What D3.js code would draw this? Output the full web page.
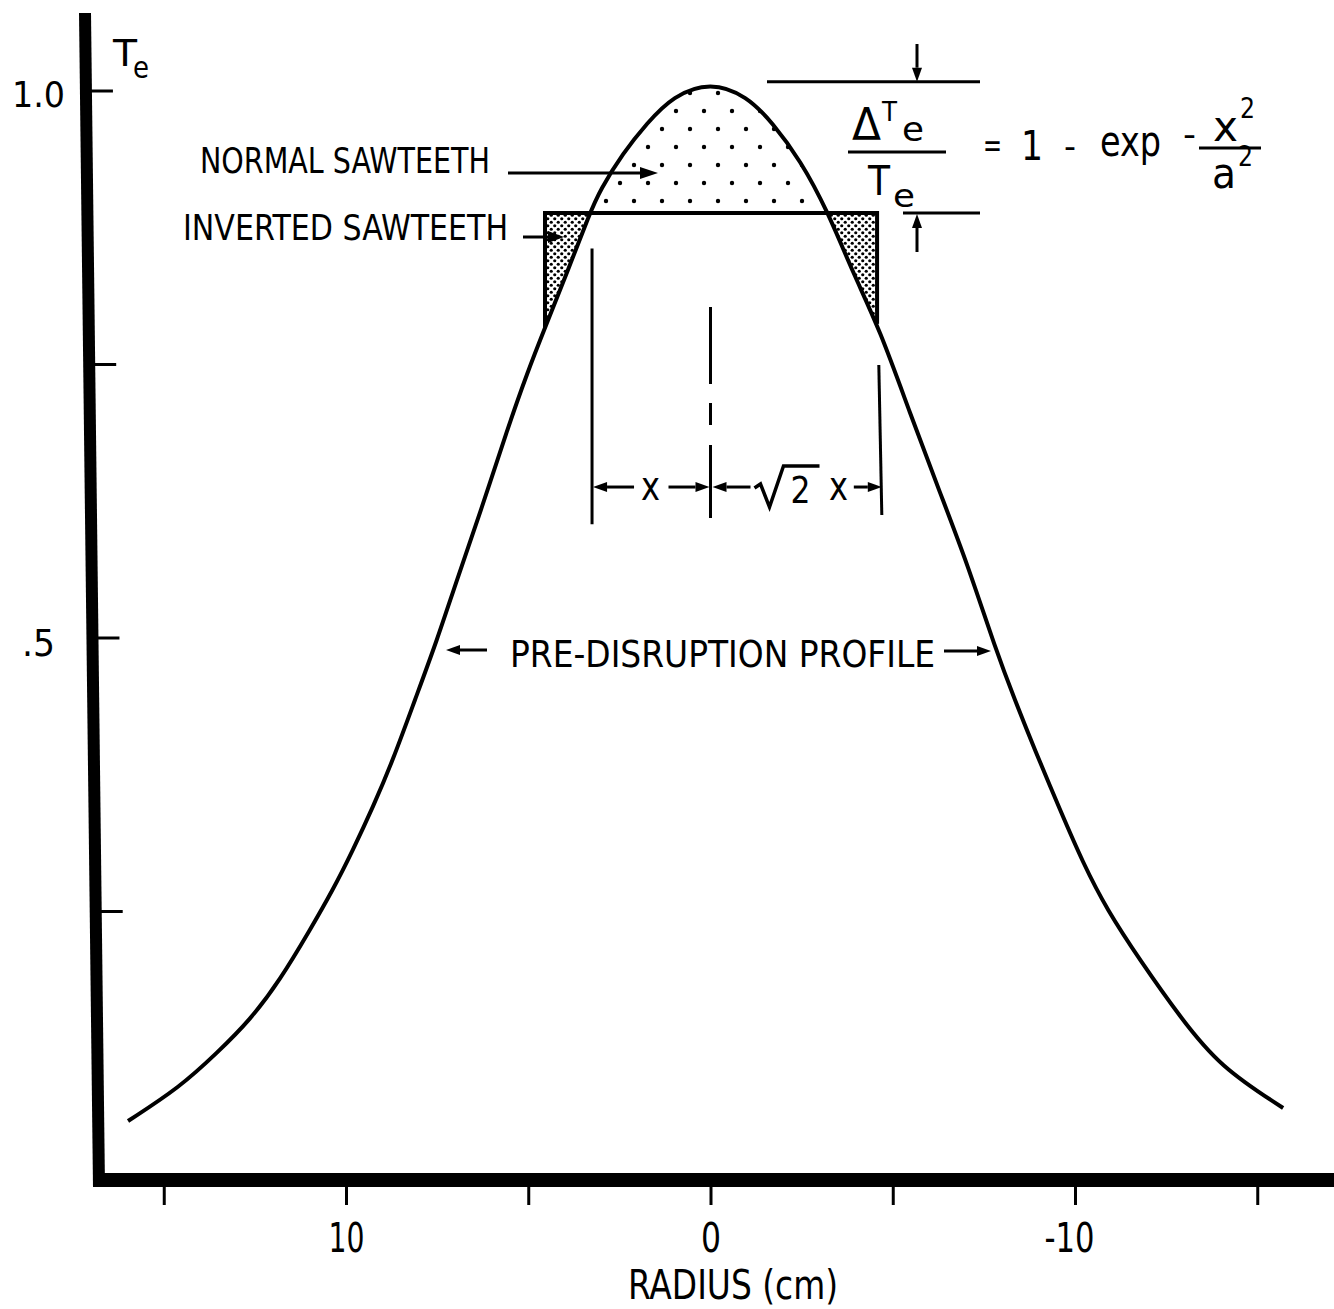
<!DOCTYPE html>
<html>
<head>
<meta charset="utf-8">
<script src="https://cdn.jsdelivr.net/npm/d3@7"></script>
<style>
  html, body { margin: 0; padding: 0; background: #fff; }
  svg { display: block; }
</style>
</head>
<body>
<svg id="chart" width="1334" height="1309"></svg>
<script>
// Pre-disruption electron temperature profile, normalised to the central value
const radiusCm = [15.98, 14.55, 13.54, 12.63, 11.81, 10.99, 10.36, 9.81, 9.26, 8.71,
  8.11, 7.50, 6.96, 6.32, 5.58, 5.03, 4.51, 3.94, 3.31, 3.03, 2.40, 1.74, 1.03, 0,
  -1.00, -1.71, -2.46, -3.20, -3.91, -4.65, -5.47, -6.30, -7.04, -7.83, -8.35, -8.90,
  -9.59, -10.22, -10.88, -11.78, -12.88, -13.98, -15.71];
const teNorm = [0.0585, 0.0896, 0.1207, 0.1508, 0.1874, 0.2331, 0.2697, 0.3062, 0.3455, 0.3885,
  0.4433, 0.4982, 0.5530, 0.6143, 0.6901, 0.7422, 0.7861, 0.8336, 0.8885, 0.9095, 0.9433, 0.9707, 0.9955, 1.0085,
  0.9955, 0.9707, 0.9369, 0.8912, 0.8336, 0.7815, 0.7057, 0.6325, 0.5686, 0.4890, 0.4433, 0.3976,
  0.3428, 0.2943, 0.2514, 0.2057, 0.1536, 0.1079, 0.0704];

// Flattened level after the crash and the edges of the mixing region (cm)
const flatLevel = [0.8885];
const mixEdgesCm = [4.54, -4.57];
// Inversion radius x and mixing radius sqrt(2) x (cm)
const inversionCm = [3.25];
const mixingCm = [-4.70];

// Axis ticks and labels
const xTickValues = [15, 10, 5, 0, -5, -10, -15];
const xTickText = {"10": "10", "0": "0", "-10": "-10"};
const yTickValues = [1.0, 0.75, 0.5, 0.25];
const yTickText = [{v: 1.0, t: "1.0"}, {v: 0.5, t: ".5"}];

const FONT = "'DejaVu Sans Condensed','DejaVu Sans',sans-serif";
const svg = d3.select("#chart").style("font-family", FONT);

const x = d3.scaleLinear().domain([10, -10]).range([346, 1075]);
const y = d3.scaleLinear().domain([0, 1]).range([1185, 91]);

const profile = radiusCm.map((r, i) => ({r, t: teNorm[i]}));
const teAt = d3.scaleLinear().domain(radiusCm).range(teNorm);
const level = flatLevel[0];

// ---- fill patterns ----
const defs = svg.append("defs");
const sparse = defs.append("pattern").attr("id", "sparseDots")
  .attr("patternUnits", "userSpaceOnUse").attr("width", 28).attr("height", 36)
  .attr("x", 669).attr("y", 102);
sparse.append("circle").attr("cx", 7).attr("cy", 9).attr("r", 2.2).attr("fill", "#000");
sparse.append("circle").attr("cx", 21).attr("cy", 27).attr("r", 2.2).attr("fill", "#000");

const dense = defs.append("pattern").attr("id", "denseDots")
  .attr("patternUnits", "userSpaceOnUse").attr("width", 7).attr("height", 7);
dense.append("circle").attr("cx", 1.75).attr("cy", 1.75).attr("r", 1.6).attr("fill", "#000");
dense.append("circle").attr("cx", 5.25).attr("cy", 5.25).attr("r", 1.6).attr("fill", "#000");

defs.append("clipPath").attr("id", "aboveLevel").append("rect")
  .attr("x", 0).attr("y", 0).attr("width", 1334).attr("height", y(level));
defs.append("clipPath").attr("id", "insideMix").append("rect")
  .attr("x", x(mixEdgesCm[0])).attr("y", y(level))
  .attr("width", x(mixEdgesCm[1]) - x(mixEdgesCm[0])).attr("height", 1309 - y(level));

const curve = d3.curveBasis;
const area = d3.area().x(d => x(d.r)).y0(y(level)).y1(d => y(d.t)).curve(curve);
const line = d3.line().x(d => x(d.r)).y(d => y(d.t)).curve(curve);

// Normal sawteeth: profile above the flattened level
svg.append("path").attr("d", area(profile)).attr("fill", "url(#sparseDots)")
  .attr("clip-path", "url(#aboveLevel)");
// Inverted sawteeth: rise between the profile and the flattened level
svg.append("path").attr("d", area(profile)).attr("fill", "url(#denseDots)")
  .attr("clip-path", "url(#insideMix)");

// ---- axes ----
// vertical axis (slightly tilted, drawn as a thick bar)
svg.append("path").attr("d", "M79,13 L91,13 L105,1187 L93,1187 Z").attr("fill", "#000");
const yEdge = v => 91 + (y(v) - 13) * (14 / 1174);
svg.append("g").selectAll("line").data(yTickValues).join("line")
  .attr("x1", d => yEdge(d) - 2).attr("x2", d => yEdge(d) + 21)
  .attr("y1", d => y(d)).attr("y2", d => y(d))
  .attr("stroke", "#000").attr("stroke-width", 3);
svg.append("g").selectAll("text").data(yTickText).join("text")
  .attr("x", d => d.v === 1 ? 12 : 22).attr("y", d => y(d.v) + (d.v === 1 ? 16 : 18))
  .attr("font-size", d => d.v === 1 ? 36 : 38)
  .attr("textLength", d => d.v === 1 ? 53 : 33).attr("lengthAdjust", "spacingAndGlyphs")
  .text(d => d.t);

// horizontal axis
svg.append("rect").attr("x", 93).attr("y", 1173).attr("width", 1241).attr("height", 14).attr("fill", "#000");
const xAxis = d3.axisBottom(x).tickValues(xTickValues).tickSize(19)
  .tickFormat(d => xTickText[String(d)] || "");
const gx = svg.append("g").attr("transform", "translate(0,1186)").call(xAxis);
gx.select(".domain").remove();
gx.selectAll(".tick line").attr("stroke", "#000").attr("stroke-width", 3);
gx.selectAll(".tick text")
  .attr("y", 66).attr("dy", null).attr("fill", "#000")
  .attr("font-family", FONT).attr("font-size", 40)
  .attr("textLength", d => d === 0 ? 20 : (d > 0 ? 36 : 50))
  .attr("lengthAdjust", "spacingAndGlyphs")
  .attr("dx", d => d < 0 ? -6 : 0);

svg.append("text").attr("x", 628).attr("y", 1299).attr("font-size", 40)
  .attr("textLength", 210).attr("lengthAdjust", "spacingAndGlyphs").text("RADIUS (cm)");

// axis title T_e
svg.append("text").attr("x", 113).attr("y", 66).attr("font-size", 37)
  .attr("textLength", 24).attr("lengthAdjust", "spacingAndGlyphs").text("T");
svg.append("text").attr("x", 133).attr("y", 78).attr("font-size", 30)
  .attr("textLength", 16).attr("lengthAdjust", "spacingAndGlyphs").text("e");

// ---- profile curve ----
svg.append("path").attr("d", line(profile)).attr("fill", "none")
  .attr("stroke", "#000").attr("stroke-width", 4).attr("stroke-linejoin", "round");

// flattened level and mixing-box edges
svg.append("line").attr("x1", x(mixEdgesCm[0])).attr("x2", x(mixEdgesCm[1]))
  .attr("y1", y(level)).attr("y2", y(level))
  .attr("stroke", "#000").attr("stroke-width", 4);
svg.append("g").selectAll("line").data(mixEdgesCm).join("line")
  .attr("x1", d => x(d)).attr("x2", d => x(d))
  .attr("y1", y(level) - 2).attr("y2", d => y(teAt(d)))
  .attr("stroke", "#000").attr("stroke-width", 4);

// ---- helpers ----
function arrow(x1, y1, x2, y2, head = 14, half = 5, w = 3) {
  const a = Math.atan2(y2 - y1, x2 - x1);
  const bx = x2 - head * Math.cos(a), by = y2 - head * Math.sin(a);
  svg.append("line").attr("x1", x1).attr("y1", y1).attr("x2", bx).attr("y2", by)
    .attr("stroke", "#000").attr("stroke-width", w);
  const px = -Math.sin(a) * half, py = Math.cos(a) * half;
  svg.append("path").attr("d", `M${x2},${y2} L${bx + px},${by + py} L${bx - px},${by - py} Z`)
    .attr("fill", "#000");
}
function label(str, px, py, size, len, extra) {
  const t = svg.append("text").attr("x", px).attr("y", py).attr("font-size", size).text(str);
  if (len) t.attr("textLength", len).attr("lengthAdjust", "spacingAndGlyphs");
  if (extra) extra(t);
  return t;
}

// ---- annotations ----
label("NORMAL SAWTEETH", 200, 173, 36, 290);
arrow(508, 173, 658, 173, 18, 6);
label("INVERTED SAWTEETH", 183, 240, 36, 325);
arrow(523, 237, 564, 237, 16, 6);

label("PRE-DISRUPTION PROFILE", 510, 667, 37, 425);
arrow(487, 650, 446, 650, 14, 5);
arrow(944, 651, 991, 651, 14, 5);

// inversion / mixing radius markers
const xInv = x(inversionCm[0]), xMix = x(mixingCm[0]), x0 = x(0);
svg.append("line").attr("x1", xInv).attr("x2", xInv).attr("y1", y(0.856)).attr("y2", y(0.604))
  .attr("stroke", "#000").attr("stroke-width", 3);
svg.append("line").attr("x1", x0).attr("x2", x0).attr("y1", y(0.8026)).attr("y2", y(0.6097))
  .attr("stroke", "#000").attr("stroke-width", 3).attr("stroke-dasharray", "77,19,22,20,200");
svg.append("line").attr("x1", xMix - 3).attr("x2", xMix).attr("y1", y(0.7495)).attr("y2", y(0.6124))
  .attr("stroke", "#000").attr("stroke-width", 3);
const yArr = y(0.638);
arrow(xInv + 42, yArr, xInv + 1, yArr, 14, 5);
label("x", 641, yArr + 13, 40, 19);
arrow(x0 - 42, yArr, x0 - 1, yArr, 14, 5);
arrow(x0 + 40, yArr, x0 + 2, yArr, 14, 5);
svg.append("path")
  .attr("d", `M${x0 + 44},${yArr + 1} L${x0 + 50},${yArr - 3} L${x0 + 59},${yArr + 20} L${x0 + 73},${yArr - 21} L${x0 + 109},${yArr - 21}`)
  .attr("fill", "none").attr("stroke", "#000").attr("stroke-width", 3.5).attr("stroke-linejoin", "miter");
label("2", x0 + 80, yArr + 16, 38, 20);
label("x", 829, yArr + 13, 40, 19);
arrow(xMix - 28, yArr, xMix, yArr, 14, 5);

// ---- drop-size formula ----
const yPeak = y(d3.max(teNorm));
svg.append("line").attr("x1", 767).attr("x2", 980).attr("y1", yPeak).attr("y2", yPeak)
  .attr("stroke", "#000").attr("stroke-width", 3);
arrow(917, 44, 917, yPeak, 14, 5);
svg.append("line").attr("x1", 903).attr("x2", 980).attr("y1", y(level)).attr("y2", y(level))
  .attr("stroke", "#000").attr("stroke-width", 3);
arrow(917, 252, 917, y(level) + 1, 14, 5);

label("\u0394", 852, 140, 44, 29);
label("T", 882, 121, 26, 15);
label("e", 902, 141, 34, 22);
svg.append("line").attr("x1", 848).attr("x2", 946).attr("y1", 152).attr("y2", 152)
  .attr("stroke", "#000").attr("stroke-width", 3);
label("T", 868, 195, 40, 22);
label("e", 893, 207, 32, 22);

label("=", 983, 157, 34, 19);
label("1", 1021, 160, 40, 22);
label("-", 1064, 158, 34, 12);
label("exp", 1100, 156, 42, 61);
label("-", 1183, 146, 34, 13);
label("x", 1213, 141, 42, 25);
label("2", 1240, 118, 28, 15);
svg.append("line").attr("x1", 1199).attr("x2", 1261).attr("y1", 148).attr("y2", 148)
  .attr("stroke", "#000").attr("stroke-width", 3);
label("a", 1212, 188, 42, 24);
label("2", 1238, 166, 28, 15);
</script>
</body>
</html>
